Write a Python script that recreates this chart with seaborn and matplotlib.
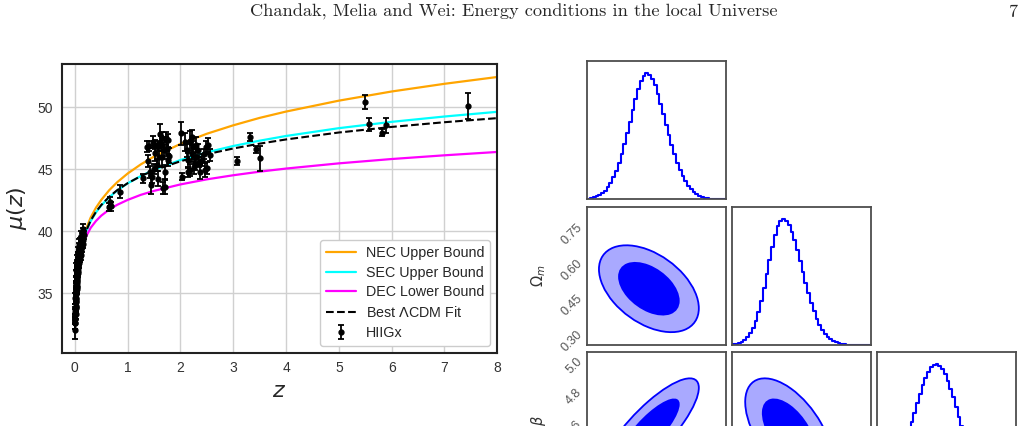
import numpy as np
import seaborn as sns
import matplotlib.pyplot as plt
from matplotlib.patches import Ellipse

# --- bound curves ---
z_curve = [0.01, 0.02, 0.05, 0.1, 0.15, 0.2, 0.3, 0.4, 0.5, 0.65, 0.8, 1.0,
           1.25, 1.5, 2.0, 2.5, 3.0, 3.5, 4.0, 5.0, 6.0, 7.0, 8.0]
mu_nec = [33.18, 34.71, 36.76, 38.37, 39.34, 40.06, 41.11, 41.90, 42.53, 43.31, 43.95, 44.66,
          45.40, 46.03, 47.05, 47.87, 48.55, 49.15, 49.66, 50.54, 51.28, 51.90, 52.45]
mu_sec = [33.17, 34.69, 36.71, 38.26, 39.19, 39.86, 40.82, 41.52, 42.08, 42.74, 43.28, 43.87,
          44.46, 44.96, 45.75, 46.37, 46.88, 47.31, 47.69, 48.32, 48.83, 49.26, 49.64]
mu_dec = [33.15, 34.64, 36.60, 38.06, 38.89, 39.48, 40.28, 40.83, 41.26, 41.75, 42.13, 42.53,
          42.94, 43.26, 43.78, 44.19, 44.52, 44.81, 45.06, 45.48, 45.83, 46.13, 46.40]
mu_lcdm = [33.17, 34.69, 36.72, 38.29, 39.22, 39.90, 40.87, 41.57, 42.12, 42.78, 43.31, 43.88,
           44.45, 44.92, 45.65, 46.22, 46.68, 47.07, 47.41, 47.97, 48.42, 48.80, 49.13]

# --- HIIGx sample: local objects (z < 0.2) ---
z_local = [0.004, 0.006, 0.007, 0.008, 0.009, 0.010, 0.011, 0.012, 0.012, 0.013, 0.014, 0.015,
           0.016, 0.017, 0.018, 0.019, 0.020, 0.021, 0.022, 0.023, 0.024, 0.025, 0.026, 0.027,
           0.028, 0.029, 0.030, 0.031, 0.032, 0.033, 0.034, 0.035, 0.036, 0.037, 0.038, 0.039,
           0.040, 0.041, 0.042, 0.044, 0.045, 0.047, 0.048, 0.050, 0.052, 0.053, 0.055, 0.057,
           0.058, 0.060, 0.062, 0.063, 0.066, 0.067, 0.069, 0.071, 0.072, 0.075, 0.077, 0.078,
           0.082, 0.084, 0.086, 0.090, 0.092, 0.094, 0.098, 0.100, 0.103, 0.108, 0.110, 0.113,
           0.118, 0.121, 0.124, 0.130, 0.133, 0.136, 0.143, 0.146, 0.150, 0.158, 0.160, 0.165]
mu_local = [32.6, 32.04, 33.5, 32.9, 32.6, 33.3, 32.9, 33.7, 34.6, 34.0, 33.3, 34.3,
            33.8, 35.0, 34.6, 33.9, 35.0, 34.4, 35.8, 35.2, 34.5, 35.5, 34.9, 36.4,
            35.7, 35.0, 35.9, 36.9, 35.3, 35.6, 36.2, 37.2, 36.4, 35.5, 35.8, 37.0,
            36.6, 36.0, 36.9, 37.6, 36.1, 37.0, 36.3, 36.7, 37.3, 37.9, 36.6, 36.8,
            37.5, 37.2, 38.3, 37.8, 37.0, 37.2, 37.9, 38.6, 37.6, 38.1, 37.8, 37.4,
            38.3, 38.9, 37.9, 38.5, 37.9, 38.0, 38.7, 39.0, 38.4, 38.9, 38.1, 38.5,
            39.1, 39.6, 38.9, 39.3, 38.7, 39.0, 39.5, 39.9, 39.3, 40.2, 39.0, 39.7]
err_local = [0.5, 0.7, 0.4, 0.4, 0.45, 0.4, 0.3, 0.4, 0.45, 0.35, 0.4, 0.4,
             0.3, 0.45, 0.45, 0.4, 0.4, 0.3, 0.5, 0.4, 0.4, 0.35, 0.4, 0.45,
             0.3, 0.4, 0.45, 0.5, 0.35, 0.4, 0.4, 0.45, 0.3, 0.4, 0.4, 0.5,
             0.45, 0.4, 0.35, 0.45, 0.4, 0.3, 0.4, 0.4, 0.35, 0.45, 0.3, 0.4,
             0.4, 0.45, 0.45, 0.35, 0.3, 0.4, 0.4, 0.45, 0.35, 0.3, 0.4, 0.4,
             0.35, 0.45, 0.3, 0.4, 0.4, 0.35, 0.3, 0.45, 0.4, 0.35, 0.4, 0.3,
             0.4, 0.45, 0.35, 0.3, 0.4, 0.3, 0.35, 0.4, 0.3, 0.4, 0.35, 0.3]

# --- HIIGx sample: high-z galaxies ---
z_far = [0.64, 0.66, 0.68, 0.85,
         1.30, 1.36, 1.39, 1.41, 1.42, 1.44, 1.455, 1.487, 1.50, 1.51, 1.52, 1.55, 1.57, 1.58,
         1.60, 1.61, 1.63, 1.645, 1.65, 1.66, 1.68, 1.70, 1.71, 1.72, 1.74, 1.76, 1.77, 1.79,
         2.01, 2.03, 2.08, 2.12, 2.14, 2.15, 2.18, 2.19, 2.21, 2.22, 2.24, 2.26, 2.27, 2.29,
         2.30, 2.33, 2.35, 2.37, 2.40, 2.45, 2.47, 2.49, 2.50, 2.53, 2.56,
         3.07, 3.31, 3.43, 3.51, 5.50, 5.57, 5.81, 5.89, 7.44]
mu_far = [41.95, 42.4, 42.0, 43.2,
          44.27, 46.82, 45.69, 46.9, 44.8, 43.73, 44.4, 47.2, 45.0, 47.0, 46.3, 45.36, 46.9, 44.24,
          46.0, 47.87, 47.06, 45.99, 47.5, 43.5, 46.53, 44.78, 43.57, 47.5, 46.67, 45.73, 47.34, 46.1,
          47.9, 44.4, 47.2, 46.53, 44.8, 45.73, 44.92, 47.3, 47.6, 46.27, 46.8, 45.2, 45.46, 47.0,
          45.99, 46.53, 45.6, 44.78, 45.73, 46.2, 44.94, 46.8, 45.1, 46.96, 46.13,
          45.67, 47.6, 46.6, 45.9, 50.45, 48.63, 47.95, 48.57, 50.1]
err_far = [0.3, 0.35, 0.35, 0.55,
           0.35, 0.45, 0.5, 0.4, 0.5, 0.7, 0.5, 0.5, 0.4, 0.4, 0.6, 0.5, 0.4, 0.6,
           0.7, 0.75, 0.6, 0.8, 0.5, 0.5, 0.7, 0.6, 0.55, 0.5, 0.6, 0.5, 0.5, 0.6,
           0.9, 0.3, 0.7, 0.5, 0.4, 0.6, 0.5, 0.8, 0.6, 0.7, 0.5, 0.6, 0.5, 0.6,
           0.7, 0.5, 0.4, 0.6, 0.5, 0.4, 0.6, 0.5, 0.5, 0.6, 0.5,
           0.35, 0.3, 0.3, 1.0, 0.55, 0.55, 0.3, 0.6, 1.05]

# --- posterior summary (corner plot) ---
p1_ticks = [66, 68, 70, 72, 74]
om_ticks = [0.30, 0.45, 0.60, 0.75]
beta_ticks = [4.4, 4.6, 4.8, 5.0]
p1_lim = (65.73, 74.37)
om_lim = (0.251, 0.829)
beta_lim = (4.175, 5.052)

p1_mean, p1_sig = 69.57, 1.27
om_mean, om_sig = 0.486, 0.074
beta_mean, beta_sig = 4.549, 0.136
rho_p1_om = -0.45
rho_p1_beta = 0.82
rho_om_beta = -0.55

# normalised marginal histograms, 50 bins each
hist_p1 = [0.006, 0.010, 0.016, 0.024, 0.035, 0.050, 0.070, 0.097, 0.131, 0.174,
           0.227, 0.289, 0.360, 0.440, 0.527, 0.618, 0.709, 0.796, 0.874, 0.938,
           0.982, 1.0, 0.990, 0.958, 0.906, 0.838, 0.760, 0.676, 0.592, 0.509,
           0.430, 0.358, 0.292, 0.234, 0.184, 0.142, 0.108, 0.080, 0.058, 0.041,
           0.029, 0.020, 0.013, 0.008, 0.005, 0.003, 0.002, 0.001, 0.0006, 0.0003]
hist_om = [0.0044, 0.0079, 0.0138, 0.0234, 0.0382, 0.060, 0.092, 0.135, 0.193, 0.265,
           0.352, 0.452, 0.562, 0.674, 0.781, 0.874, 0.946, 0.989, 1.0, 0.985,
           0.950, 0.898, 0.831, 0.753, 0.668, 0.580, 0.494, 0.411, 0.335, 0.268,
           0.210, 0.160, 0.120, 0.088, 0.064, 0.045, 0.031, 0.021, 0.0138, 0.0089,
           0.0057, 0.0035, 0.0021, 0.0013, 0.0008, 0.0005, 0.0003, 0.0002, 0.0001, 0.0001]
hist_beta = [0.031, 0.043, 0.059, 0.079, 0.104, 0.135, 0.173, 0.217, 0.269, 0.328,
             0.393, 0.463, 0.538, 0.614, 0.690, 0.764, 0.831, 0.891, 0.939, 0.974,
             0.995, 1.0, 0.989, 0.962, 0.921, 0.868, 0.805, 0.735, 0.660, 0.583,
             0.508, 0.434, 0.366, 0.303, 0.248, 0.199, 0.157, 0.122, 0.093, 0.070,
             0.052, 0.038, 0.027, 0.019, 0.013, 0.0091, 0.0062, 0.0041, 0.0027, 0.0017]

sns.set_theme(style="whitegrid")
plt.rcParams['font.family'] = ['Liberation Sans', 'DejaVu Sans']
plt.rcParams['mathtext.fontset'] = 'dejavusans'

fig = plt.figure(figsize=(10.31, 4.26), dpi=100)

fig.text(0.4985, 0.971, "Chandak, Melia and Wei: Energy conditions in the local Universe",
         family='cmr10', fontsize=13.2, ha='center', va='center')
fig.text(0.9825, 0.971, "7", family='cmr10', fontsize=13.2, ha='center', va='center')

# ---------------- left: Hubble diagram ----------------
ax = fig.add_axes([0.0598, 0.1721, 0.4225, 0.6777])
sns.lineplot(x=z_curve, y=mu_nec, color='orange', lw=1.6, label='NEC Upper Bound', ax=ax)
sns.lineplot(x=z_curve, y=mu_sec, color='cyan', lw=1.6, label='SEC Upper Bound', ax=ax)
sns.lineplot(x=z_curve, y=mu_dec, color='magenta', lw=1.6, label='DEC Lower Bound', ax=ax)
sns.lineplot(x=z_curve, y=mu_lcdm, color='black', lw=1.5, linestyle='--',
             label=r'Best $\Lambda$CDM Fit', ax=ax)
ax.errorbar(z_local + z_far, mu_local + mu_far, yerr=err_local + err_far, fmt='o',
            color='black', ms=3.5, elinewidth=1.3, capsize=2.5, capthick=1.3,
            label='HIIGx', zorder=3)

ax.set_xlim(-0.25, 8)
ax.set_ylim(30.2, 53.5)
ax.set_xticks(range(0, 9))
ax.set_yticks([35, 40, 45, 50])
ax.tick_params(labelsize=10, colors='#333333', length=0, pad=6)
ax.grid(True, color='#d0d0d0', lw=1.0)
for s in ax.spines.values():
    s.set_color('#222222')
    s.set_linewidth(1.5)
ax.set_xlabel('$z$', fontsize=16, labelpad=4)
ax.set_ylabel(r'$\mu(z)$', fontsize=16, labelpad=6)
ax.legend(loc='lower right', fontsize=10.3, labelspacing=0.4, handlelength=2.1,
          handletextpad=0.7, frameon=True, edgecolor='#cccccc', framealpha=1)

# ---------------- right: corner plot ----------------
col_x = [0.5696, 0.7103, 0.8509]
row_y = [0.5321, 0.1901, -0.1502]
pw, ph = 0.1345, 0.325

params = [
    dict(lim=p1_lim, ticks=p1_ticks, mean=p1_mean, sig=p1_sig, hist=hist_p1, fmt=None, label=None),
    dict(lim=om_lim, ticks=om_ticks, mean=om_mean, sig=om_sig, hist=hist_om, fmt="{:.2f}",
         label=r'$\Omega_m$'),
    dict(lim=beta_lim, ticks=beta_ticks, mean=beta_mean, sig=beta_sig, hist=hist_beta, fmt="{:.1f}",
         label=r'$\beta$'),
]
rho = {(0, 1): rho_p1_om, (0, 2): rho_p1_beta, (1, 2): rho_om_beta}


def style_panel(a):
    a.grid(False)
    a.set_facecolor('white')
    for s in a.spines.values():
        s.set_color('#4d4d4d')
        s.set_linewidth(1.3)
    a.tick_params(direction='in', length=4, width=1, color='#555555',
                  labelsize=9, labelcolor='#555555', pad=2)
    a.set_xlabel('')


for i in range(3):
    for j in range(i + 1):
        a = fig.add_axes([col_x[j], row_y[i], pw, ph])
        px, py = params[j], params[i]
        if i == j:
            nb = len(px['hist'])
            lo, hi = px['lim']
            step = (hi - lo) / nb
            centers = [lo + (k + 0.5) * step for k in range(nb)]
            sns.histplot(x=centers, weights=px['hist'], bins=nb, binrange=(lo, hi),
                         element='step', fill=False, color='#0000ff', lw=1.5, ax=a)
            a.set_ylim(0, 1.1)
            a.set_yticks([])
            a.set_ylabel('')
        else:
            r = rho[(j, i)]
            cov = np.array([[px['sig'] ** 2, r * px['sig'] * py['sig']],
                            [r * px['sig'] * py['sig'], py['sig'] ** 2]])
            vals, vecs = np.linalg.eigh(cov)
            ang = np.degrees(np.arctan2(vecs[1, -1], vecs[0, -1]))
            # 95% and 68% contours
            a.add_patch(Ellipse((px['mean'], py['mean']), 2 * 2.45 * np.sqrt(vals[-1]),
                                2 * 2.45 * np.sqrt(vals[0]), angle=ang,
                                facecolor='#a9a9ff', edgecolor='#0000ff', lw=1.3))
            a.add_patch(Ellipse((px['mean'], py['mean']), 2 * 1.51 * np.sqrt(vals[-1]),
                                2 * 1.51 * np.sqrt(vals[0]), angle=ang,
                                facecolor='#0000ff', edgecolor='none'))
            a.set_ylim(py['lim'])
            a.set_yticks(py['ticks'])
            if j == 0:
                a.set_yticklabels([py['fmt'].format(t) for t in py['ticks']], rotation=45)
                a.set_ylabel(py['label'], fontsize=10.5, color='#333333')
                a.yaxis.set_label_coords(-0.283, 0.5)
            else:
                a.set_yticklabels([])
        a.set_xlim(px['lim'])
        a.set_xticks(px['ticks'])
        a.set_xticklabels([])
        style_panel(a)

plt.savefig('out.png', dpi=100)
